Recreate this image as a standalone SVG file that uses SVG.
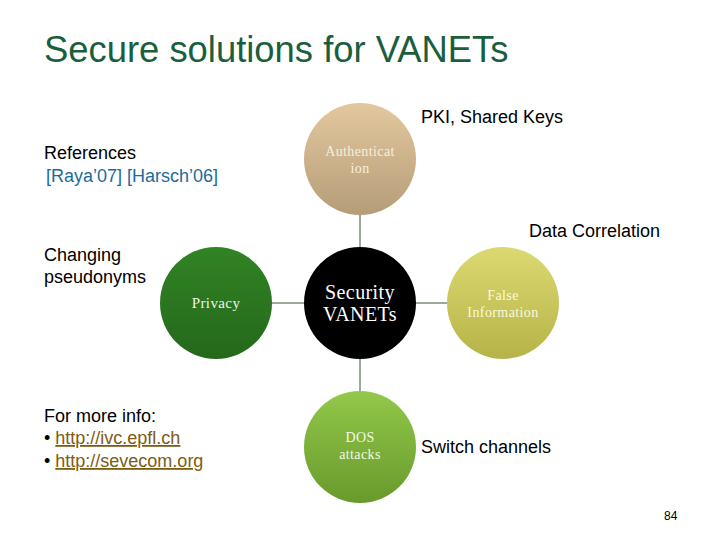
<svg xmlns="http://www.w3.org/2000/svg" width="720" height="540" viewBox="0 0 720 540">
<defs>
<linearGradient id="gAuth" x1="0" y1="0" x2="0" y2="1"><stop offset="0" stop-color="#e3c89e"/><stop offset="1" stop-color="#b59d78"/></linearGradient>
<linearGradient id="gPriv" x1="0" y1="0" x2="0" y2="1"><stop offset="0" stop-color="#318324"/><stop offset="1" stop-color="#25681b"/></linearGradient>
<linearGradient id="gFalse" x1="0" y1="0" x2="0" y2="1"><stop offset="0" stop-color="#dcd972"/><stop offset="1" stop-color="#b6b348"/></linearGradient>
<linearGradient id="gDos" x1="0" y1="0" x2="0" y2="1"><stop offset="0" stop-color="#92c84a"/><stop offset="1" stop-color="#689a2c"/></linearGradient>
<style>
.t{font-family:"Liberation Sans",Arial,sans-serif;font-size:18px;fill:#000}
.c{font-family:"Liberation Serif","Times New Roman",serif;text-anchor:middle;letter-spacing:0.4px}
.lnk{fill:#7d5c14;text-decoration:underline}
.conn line{stroke:#2f5a32;stroke-width:1}
</style>
</defs>
<rect width="720" height="540" fill="#fff"/>
<text x="44" y="62" font-family="Liberation Sans,Arial,sans-serif" font-size="36.4" fill="#1a5e3e">Secure solutions for VANETs</text>

<g class="conn">
<line x1="360" y1="215" x2="360" y2="247"/>
<line x1="272" y1="303" x2="304" y2="303"/>
<line x1="416" y1="303" x2="447" y2="303"/>
<line x1="360" y1="359" x2="360" y2="391"/>
</g>

<g id="auth">
<circle cx="360" cy="159" r="56" fill="url(#gAuth)"/>
<text class="c" x="360" y="156" font-size="14" fill="#f7efdc">Authenticat</text>
<text class="c" x="360" y="173" font-size="14" fill="#f7efdc">ion</text>
</g>
<g id="privacy">
<circle cx="216" cy="303" r="56" fill="url(#gPriv)"/>
<text class="c" x="216" y="308" font-size="15" fill="#eef4e6">Privacy</text>
</g>
<g id="security">
<circle cx="360" cy="303" r="56" fill="#000"/>
<text class="c" x="360" y="299" font-size="20" fill="#fff">Security</text>
<text class="c" x="360" y="321" font-size="20" fill="#fff">VANETs</text>
</g>
<g id="false">
<circle cx="503" cy="303" r="56" fill="url(#gFalse)"/>
<text class="c" x="503" y="300" font-size="14" fill="#fbf8dc">False</text>
<text class="c" x="503" y="317" font-size="14" fill="#fbf8dc">Information</text>
</g>
<g id="dos">
<circle cx="360" cy="447" r="56" fill="url(#gDos)"/>
<text class="c" x="360" y="442" font-size="14" fill="#f2f8e8">DOS</text>
<text class="c" x="360" y="459" font-size="14" fill="#f2f8e8">attacks</text>
</g>

<text class="t" x="421" y="123">PKI, Shared Keys</text>
<text class="t" x="44" y="159">References</text>
<text class="t" x="46" y="182" style="fill:#1b6c9c">[Raya’07] [Harsch’06]</text>
<text class="t" x="529" y="237">Data Correlation</text>
<text class="t" x="44" y="261">Changing</text>
<text class="t" x="44" y="283">pseudonyms</text>
<text class="t" x="44" y="422">For more info:</text>
<text class="t" x="44" y="444">• <tspan class="lnk">http://ivc.epfl.ch</tspan></text>
<text class="t" x="44" y="467">• <tspan class="lnk">http://sevecom.org</tspan></text>
<text class="t" x="421" y="453">Switch channels</text>
<text x="664" y="520" font-family="Liberation Sans,Arial,sans-serif" font-size="12" fill="#000">84</text>
</svg>
